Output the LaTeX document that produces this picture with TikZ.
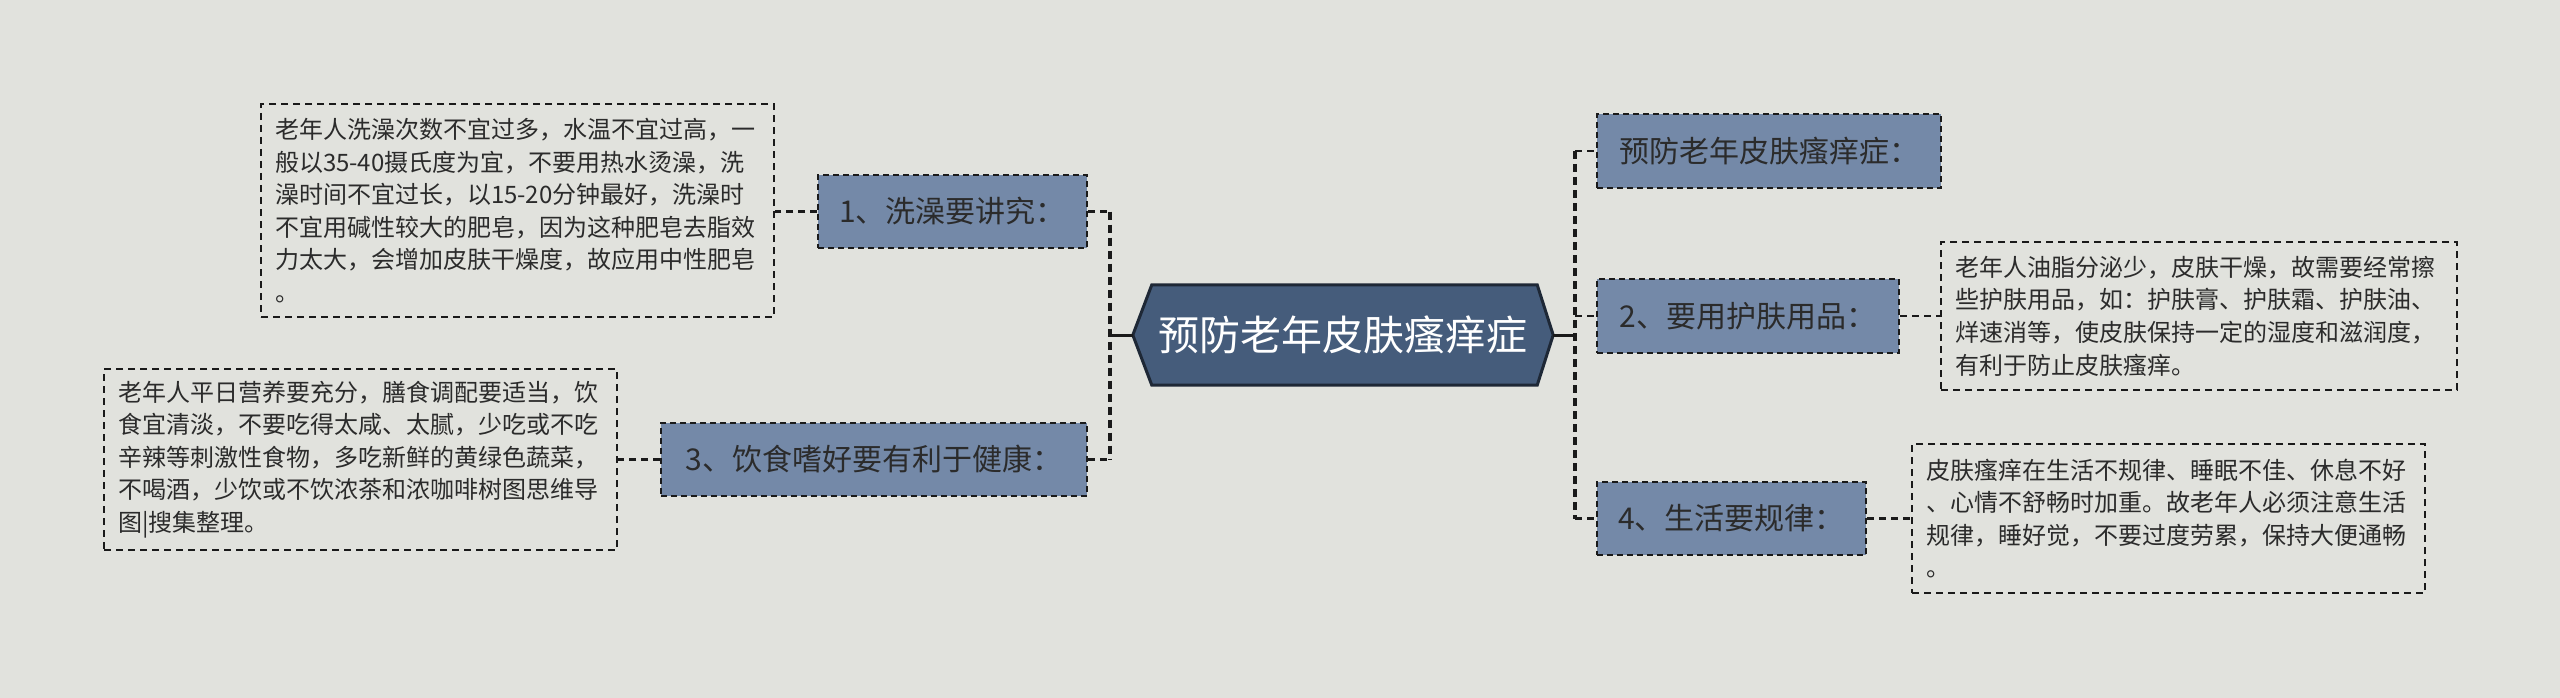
\documentclass[tikz,border=0pt]{standalone}
\usepackage{fontspec}
\setmainfont{Noto Sans CJK SC}
\usetikzlibrary{calc}
\definecolor{bgc}{HTML}{E1E2DD}
\definecolor{nodefill}{HTML}{7489A8}
\definecolor{centerfill}{HTML}{455C7B}
\definecolor{centerline}{HTML}{1E2836}
\definecolor{inkc}{HTML}{2B2B2B}
\definecolor{linec}{HTML}{1A1A1A}
\tikzset{
  topic/.style={draw=linec, line width=2pt, dash pattern=on 6pt off 4pt, fill=nodefill,
    text=inkc, font=\fontsize{30}{36}\selectfont, inner sep=0pt, anchor=center},
  textbox/.style={draw=linec, line width=1.6pt, dash pattern=on 7pt off 5pt,
    text=inkc, font=\fontsize{24}{32.6}\selectfont, align=left, inner xsep=14pt, inner ysep=0pt, anchor=center},
  link/.style={draw=linec, line width=2.2pt, dash pattern=on 7pt off 5pt},
  spine/.style={draw=linec, line width=3.5pt, dash pattern=on 8pt off 5pt},
  solidlink/.style={draw=linec, line width=3pt}
}
\begin{document}
\begin{tikzpicture}[x=1pt,y=-1pt]
\fill[bgc] (0,0) rectangle (2560,698);
\useasboundingbox (0,0) rectangle (2560,698);

% central node
\node[minimum width=420pt, minimum height=100pt, inner sep=0pt] (c) at (1343,335) {};
\filldraw[fill=centerfill, draw=centerline, line width=3pt]
  (c.west) -- ($(c.north west)+(19,0)$) -- ($(c.north east)+(-16,0)$) -- (c.east)
  -- ($(c.south east)+(-16,0)$) -- ($(c.south west)+(19,0)$) -- cycle;
\node[text=white, font=\fontsize{41}{48}\selectfont] at (c) {预防老年皮肤瘙痒症};

% left topics
\node[topic, minimum width=269pt, minimum height=73pt] (n1) at (952.5,211.5) {1、洗澡要讲究：};
\node[topic, minimum width=426pt, minimum height=73pt] (n3) at (874,459.5) {3、饮食嗜好要有利于健康：};

% right topics
\node[topic, minimum width=344pt, minimum height=74pt] (n0) at (1769,151) {预防老年皮肤瘙痒症：};
\node[topic, minimum width=302pt, minimum height=74pt] (n2) at (1748,316) {2、要用护肤用品：};
\node[topic, minimum width=269pt, minimum height=73pt] (n4) at (1731.5,518.5) {4、生活要规律：};

% text boxes
\node[textbox, text width=485pt, minimum height=213pt] (t1) at (517.5,210.5) {老年人洗澡次数不宜过多，水温不宜过高，一\\
般以35-40摄氏度为宜，不要用热水烫澡，洗\\
澡时间不宜过长，以15-20分钟最好，洗澡时\\
不宜用碱性较大的肥皂，因为这种肥皂去脂效\\
力太大，会增加皮肤干燥度，故应用中性肥皂\\
。};
\node[textbox, text width=485pt, minimum height=181pt] (t3) at (360.5,459.5) {老年人平日营养要充分，膳食调配要适当，饮\\
食宜清淡，不要吃得太咸、太腻，少吃或不吃\\
辛辣等刺激性食物，多吃新鲜的黄绿色蔬菜，\\
不喝酒，少饮或不饮浓茶和浓咖啡树图思维导\\
图|搜集整理。};
\node[textbox, text width=488pt, minimum height=148pt] (t2) at (2199,316) {老年人油脂分泌少，皮肤干燥，故需要经常擦\\
些护肤用品，如：护肤膏、护肤霜、护肤油、\\
烊速消等，使皮肤保持一定的湿度和滋润度，\\
有利于防止皮肤瘙痒。};
\node[textbox, text width=485pt, minimum height=149pt] (t4) at (2168.5,518.5) {皮肤瘙痒在生活不规律、睡眠不佳、休息不好\\
、心情不舒畅时加重。故老年人必须注意生活\\
规律，睡好觉，不要过度劳累，保持大便通畅\\
。};

% spine coordinates
\coordinate (ls) at (1110,335);
\coordinate (rs) at (1575,335);

% center to spines
\draw[solidlink] (c.west) -- (ls);
\draw[solidlink] (c.east) -- (rs);

% left spine
\draw[spine] (n1.east -| ls) -- (n3.east -| ls);
\draw[link] (n1.east) -- (n1.east -| ls);
\draw[link] (n3.east) -- (n3.east -| ls);
% right spine
\draw[spine] (n0.west -| rs) -- (n4.west -| rs);
\draw[link] (n0.west -| rs) -- (n0.west);
\draw[link] (n2.west -| rs) -- (n2.west);
\draw[link] (n4.west -| rs) -- (n4.west);

% topic to text boxes
\draw[link] (n1.west) -- (n1.west -| t1.east);
\draw[link] (n3.west) -- (n3.west -| t3.east);
\draw[link] (n2.east) -- (n2.east -| t2.west);
\draw[link] (n4.east) -- (n4.east -| t4.west);
\end{tikzpicture}
\end{document}
